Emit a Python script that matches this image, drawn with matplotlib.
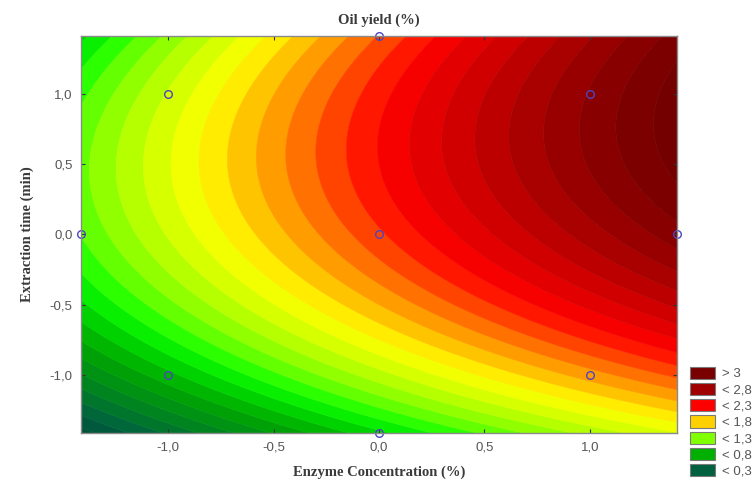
import numpy as np
import matplotlib
matplotlib.use("Agg")
import matplotlib.pyplot as plt
from matplotlib.patches import Patch

# Fitted quadratic response surface (coded units)
# z = b0 + b1*x + b2*y + b11*x^2 + b22*y^2 + b12*x*y
coef_b0 = 2.18
coef_lin = [0.62, 0.40]        # b1 (enzyme), b2 (time)
coef_quad = [-0.05, -0.32]     # b11, b22
coef_inter = 0.079             # b12

# Experimental design points (central composite)
design_x = [-1, 1, -1, 1, 0, -1.414, 1.414, 0, 0]
design_y = [-1, -1, 1, 1, 0, 0, 0, -1.414, 1.414]

# Colour anchors of the Statistica palette
anchor_vals = [0.2, 0.3, 0.8, 1.0, 1.1, 1.3, 1.5, 1.7, 1.8, 2.0, 2.3, 2.8, 3.0, 3.2]
anchor_cols = ["#00503a", "#006040", "#00a800", "#00e000", "#10ff00", "#80ff00", "#c8ff00",
               "#ffff00", "#ffd800", "#ff8800", "#ff0000", "#a00000", "#800000", "#700000"]

# Legend
legend_labels = ["> 3", "< 2,8", "< 2,3", "< 1,8", "< 1,3", "< 0,8", "< 0,3"]
legend_cols = ["#780000", "#a00000", "#ff0000", "#ffd000", "#80ff00", "#00b000", "#006040"]

tick_vals = [-1.0, -0.5, 0.0, 0.5, 1.0]
tick_labels = ["-1,0", "-0,5", "0,0", "0,5", "1,0"]

lim = 1.414
xs = np.linspace(-lim, lim, 400)
ys = np.linspace(-lim, lim, 400)
X, Y = np.meshgrid(xs, ys)
Z = (coef_b0 + coef_lin[0] * X + coef_lin[1] * Y + coef_quad[0] * X ** 2
     + coef_quad[1] * Y ** 2 + coef_inter * X * Y)

levels = np.round(np.arange(0.0, 3.21, 0.1), 2)


def hex2rgb(h):
    h = h.lstrip("#")
    return [int(h[i:i + 2], 16) / 255 for i in (0, 2, 4)]


rgb = np.array([hex2rgb(c) for c in anchor_cols])
mids = (levels[:-1] + levels[1:]) / 2
band_cols = [tuple(np.interp(m, anchor_vals, rgb[:, k]) for k in range(3)) for m in mids]

fig = plt.figure(figsize=(7.55, 4.87), dpi=100)
ax = fig.add_axes([0.1073, 0.1109, 0.7894, 0.8152])

cs = ax.contourf(X, Y, Z, levels=levels, colors=band_cols, antialiased=True)
# hide the hairline seams between filled bands
cs.set_edgecolor("face")
cs.set_linewidth(0.4)

ax.plot(design_x, design_y, "o", mfc="none", mec="#4e44c0", ms=5.5, mew=1.0, clip_on=False, zorder=5)

ax.set_xlim(-lim, lim)
ax.set_ylim(-lim, lim)
ax.set_xticks(tick_vals)
ax.set_xticklabels(tick_labels)
ax.set_yticks(tick_vals)
ax.set_yticklabels(tick_labels)
ax.tick_params(direction="in", length=3, width=0.8, color="#333333", top=True, right=True,
               labelsize=9.5, labelcolor="#555555", pad=6)
for lab in ax.get_xticklabels() + ax.get_yticklabels():
    lab.set_family("Liberation Sans")
for side, sp in ax.spines.items():
    sp.set_color("#8a8a8a")
    sp.set_linewidth(1.0)
    sp.set_zorder(6)

serif = dict(family="Liberation Serif", weight="bold", color="#3a3a3a", fontsize=10.5)
ax.set_title("Oil yield (%)", pad=9, **serif)
ax.set_xlabel("Enzyme Concentration (%)", labelpad=9, **serif)
ax.set_ylabel("Extraction time (min)", labelpad=11, **serif)

handles = [Patch(facecolor=c, edgecolor="#7a7a7a", linewidth=0.8) for c in legend_cols]
leg = fig.legend(handles, legend_labels, loc="lower left", bbox_to_anchor=(0.902, 0.0),
                 frameon=False, handlelength=1.9, handleheight=1.05,
                 labelspacing=0.2, handletextpad=0.5, borderaxespad=0.3,
                 prop={"family": "Liberation Sans", "size": 9.5})
for t in leg.get_texts():
    t.set_color("#555555")

fig.savefig("out.png", dpi=100)
